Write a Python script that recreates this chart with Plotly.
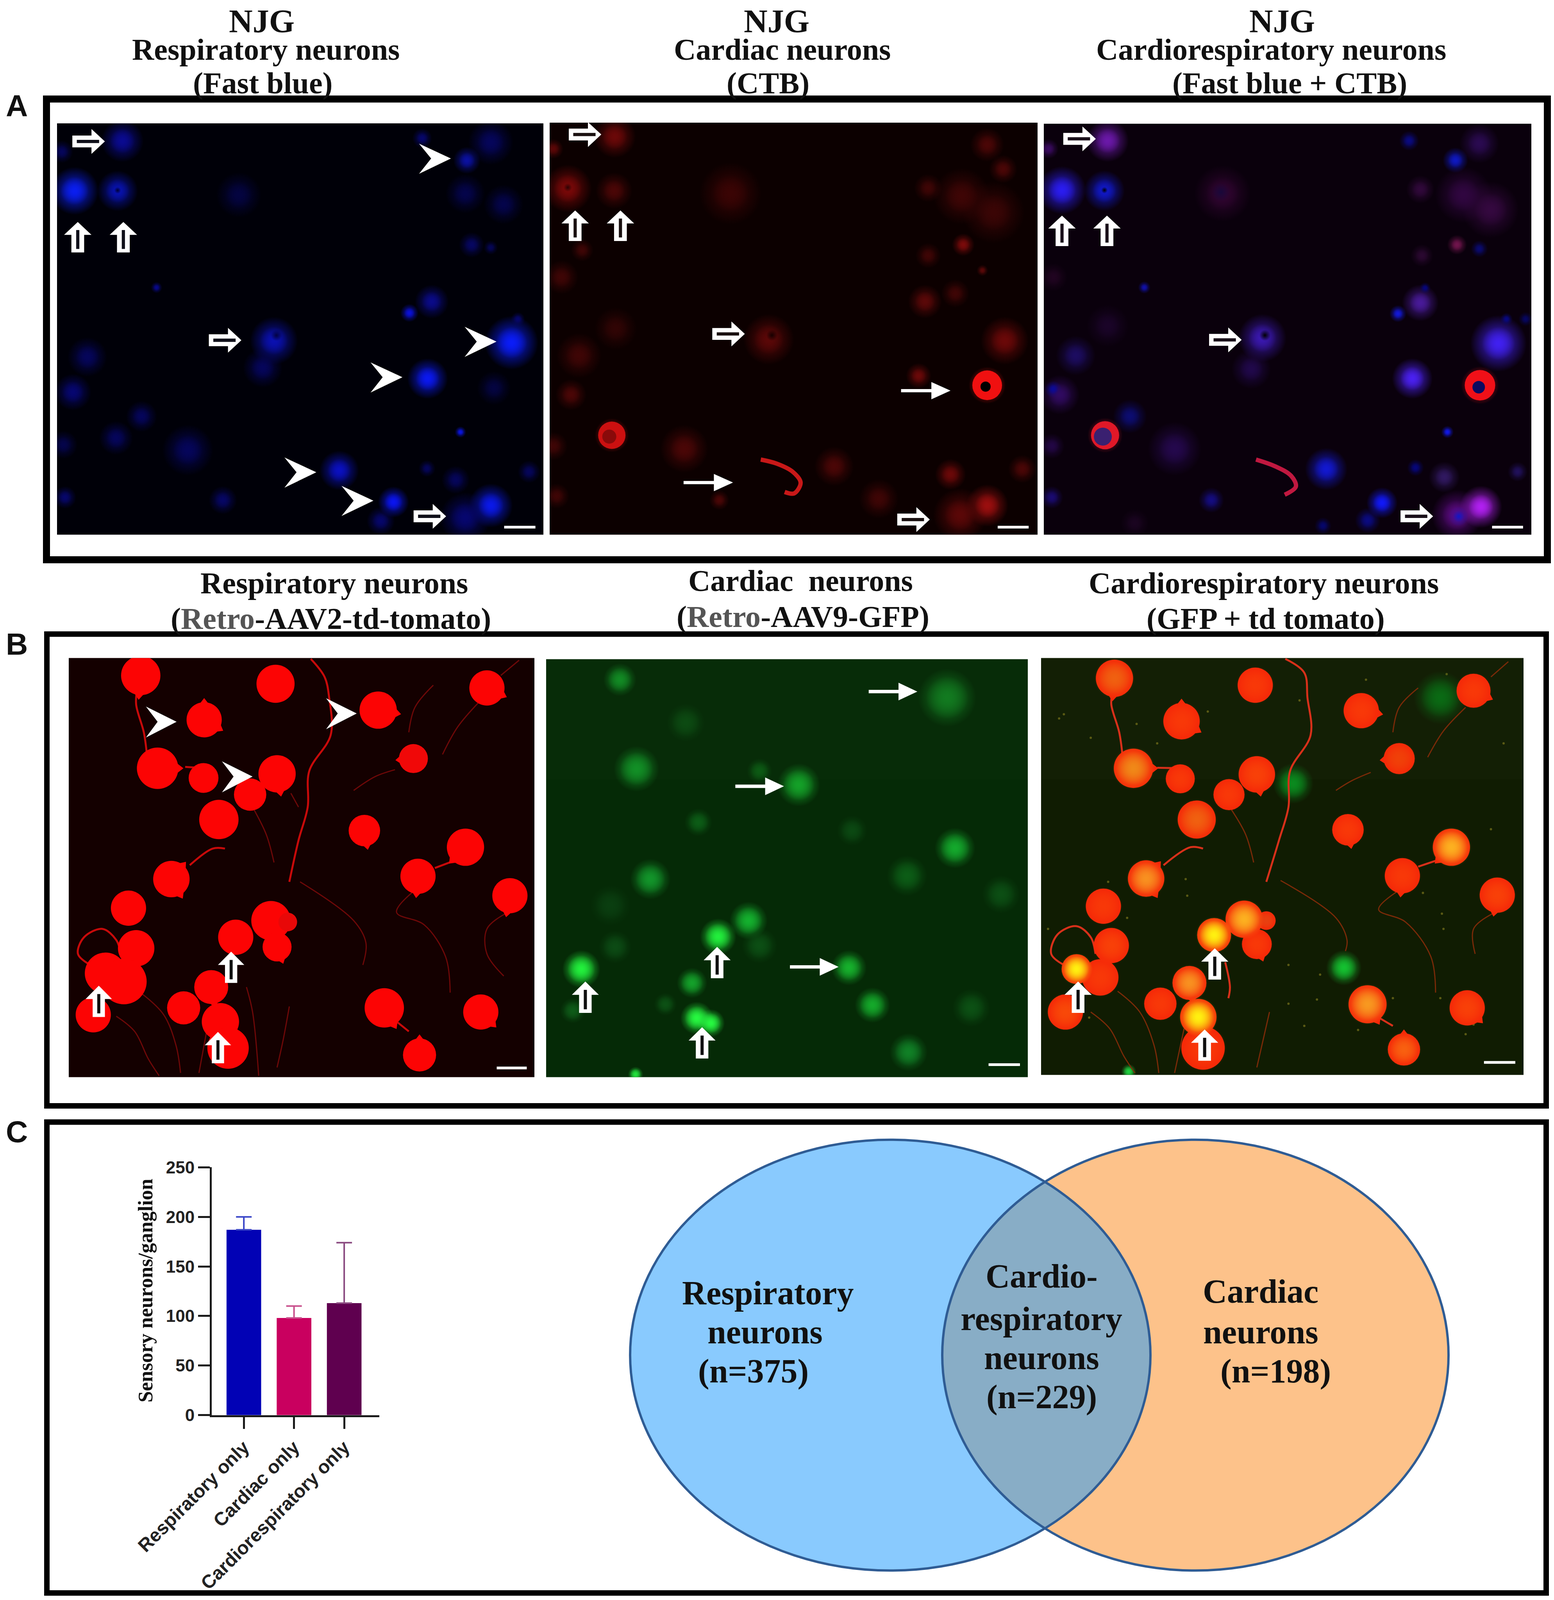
import math

import plotly.graph_objects as go

# the photographed page only shows this much, so the whole reference is fitted into it
REF_W = 3978
REF_H = 4345
SHOWN_H = 4096
BODY_MARGIN = 8
FIG_W = REF_W - 2 * BODY_MARGIN
FIG_H = SHOWN_H - 2 * BODY_MARGIN
SERIF = "Liberation Serif"
SANS = "Liberation Sans"

# bar chart (panel C)
CATEGORIES = ["Respiratory only", "Cardiac only", "Cardiorespiratory only"]
MEANS = [187, 98, 113]
ERRORS = [13, 12, 61]
BAR_COLORS = ["#0202b5", "#c9005f", "#5f004f"]
ERROR_COLORS = ["#3a46c8", "#c8508c", "#8a4a80"]
Y_TICKS = [0, 50, 100, 150, 200, 250]

# venn counts (panel C)
VENN_RESP = 375
VENN_BOTH = 229
VENN_CARD = 198

# micrograph cells, in field units: (x, y, diameter, peak colour)
A1_CELLS = [
    (225, 85, 75, "#0a0a90"), (75, 270, 85, "#0a1ef0"), (210, 270, 72, "#0812b0"), (1305, 157, 48, "#0a10a0"),
    (1165, 75, 35, "#06066a"), (1380, 90, 80, "#05055a"), (35, 125, 40, "#05055a"), (590, 285, 80, "#040440"),
    (1320, 470, 45, "#060660"), (1380, 480, 25, "#050555"), (1300, 280, 70, "#04044a"), (1420, 320, 70, "#04044a"),
    (332, 628, 20, "#08088a"), (1195, 680, 60, "#0a0a88"), (1125, 722, 32, "#0a10d8"), (1445, 832, 95, "#0a1cf8"),
    (1182, 965, 72, "#0a18f0"), (700, 825, 85, "#0a10b0"), (665, 925, 70, "#05055a"), (115, 885, 70, "#05055a"),
    (70, 1015, 65, "#060670"), (285, 1105, 55, "#05055a"), (205, 1185, 60, "#05055a"), (430, 1230, 90, "#05055a"),
    (905, 1305, 70, "#0a10c0"), (1075, 1422, 55, "#0a14f0"), (1035, 1492, 50, "#06066a"), (1380, 1435, 78, "#0a18e8"),
    (1300, 1480, 90, "#06066e"), (1285, 1163, 20, "#0a14e0"), (1180, 1298, 30, "#05055a"), (1270, 1340, 50, "#05055a"),
    (1500, 1310, 40, "#05055a"), (540, 1415, 50, "#060664"), (45, 1405, 40, "#06066a"), (1390, 1000, 60, "#040440"),
    (40, 1210, 50, "#04044a"), (1465, 745, 25, "#06066a"),
]
A1_NUCLEI = [(210, 268, 12, "#000030"), (708, 805, 20, "#020240")]

A2_CELLS = [
    (212, 70, 75, "#6a0808"), (65, 262, 85, "#7a0808"), (210, 270, 65, "#4a0606"), (575, 280, 110, "#3a0404"),
    (20, 115, 35, "#5a0606"), (1380, 100, 60, "#4a0606"), (1430, 190, 50, "#4a0606"), (1300, 290, 100, "#3e0505"),
    (1400, 350, 110, "#3a0505"), (1305, 470, 40, "#7a0a0a"), (1195, 510, 45, "#3e0505"), (1195, 260, 50, "#3e0505"),
    (1185, 680, 60, "#5a0808"), (1280, 650, 50, "#3e0505"), (1365, 565, 20, "#5a0808"), (1435, 825, 85, "#6a0808"),
    (1165, 955, 45, "#6a0808"), (695, 820, 90, "#5a0707"),
    (900, 1290, 70, "#4a0606"), (1265, 1320, 55, "#6a0808"), (1380, 1435, 75, "#9a0e0e"), (1295, 1470, 95, "#5a0707"),
    (1040, 1410, 70, "#3e0505"), (430, 1225, 85, "#4a0606"), (215, 780, 75, "#300404"), (100, 880, 80, "#3e0505"),
    (75, 1025, 55, "#4a0606"), (45, 590, 60, "#3e0505"), (20, 1215, 50, "#3e0505"), (540, 1415, 35, "#4a0606"),
    (1490, 1300, 50, "#4a0606"), (30, 1400, 45, "#3e0505"), (110, 490, 40, "#3e0505"),
]
A2_BRIGHT = [(1380, 990, 76, "#f01010"), (203, 1175, 70, "#cc1010")]
A2_BRIGHT_HOLES = [(1375, 995, 26, "#000000"), (195, 1180, 36, "#8a0a0a")]
A2_NUCLEI = [(705, 805, 24, "#150000"), (65, 258, 18, "#2a0303")]
A2_CRESCENT_X = [670, 720, 770, 795, 775, 745]
A2_CRESCENT_Y = [1265, 1280, 1310, 1350, 1390, 1385]

A3_CELLS = [
    (215, 85, 75, "#6a18a8"), (72, 268, 85, "#2a1cf0"), (205, 270, 72, "#1018c8"), (1305, 157, 45, "#0e18c0"),
    (1160, 85, 35, "#0a0a80"), (1380, 95, 70, "#2a0a50"), (30, 115, 35, "#3a0a60"), (575, 280, 100, "#300430"),
    (1195, 265, 50, "#30083a"), (1330, 285, 100, "#300640"), (1415, 340, 100, "#34083f"), (1310, 470, 35, "#70144c"),
    (1380, 485, 30, "#0a0a70"), (1200, 510, 40, "#2a0830"), (330, 628, 22, "#1010a8"), (1125, 725, 30, "#1218d8"),
    (1195, 685, 65, "#481a98"), (1210, 630, 20, "#06067a"), (700, 815, 85, "#3a18b0"), (665, 930, 70, "#20084a"),
    (1440, 835, 100, "#4020f0"), (1170, 965, 72, "#4a20f0"), (1465, 745, 22, "#080880"), (1525, 745, 25, "#060660"),
    (115, 880, 70, "#1c0c60"), (215, 770, 75, "#1a0428"),
    (65, 1025, 70, "#300a60"), (45, 1005, 30, "#0a0a98"), (285, 1105, 60, "#0c0c70"), (425, 1225, 95, "#24084c"),
    (45, 590, 50, "#200420"), (40, 1215, 45, "#220644"), (900, 1300, 75, "#1218d0"), (1075, 1425, 55, "#1018f8"),
    (1030, 1490, 45, "#0a0a80"), (1310, 1470, 90, "#5a0a80"), (1385, 1440, 75, "#b020f0"), (1315, 1475, 35, "#1018c8"),
    (1280, 1163, 22, "#1018e8"), (1180, 1295, 30, "#06067a"), (1270, 1330, 55, "#301860"), (1500, 1310, 35, "#20105a"),
    (540, 1415, 45, "#140c80"), (40, 1405, 40, "#1a0a70"), (890, 1510, 30, "#06066a"), (300, 1500, 50, "#1a0420"),
]
A3_BRIGHT = [(1382, 990, 78, "#f01018"), (207, 1175, 72, "#e01828")]
A3_BRIGHT_HOLES = [(1378, 997, 32, "#0a0a60"), (200, 1180, 46, "#3a2070")]
A3_NUCLEI = [(205, 268, 14, "#000000"), (708, 805, 24, "#000000"), (570, 275, 40, "#18083a")]
A3_CRESCENT_X = [680, 740, 790, 805, 770]
A3_CRESCENT_Y = [1265, 1290, 1325, 1365, 1395]

B1_CELLS = [
    (255, 85, 95, "#fc0404"), (695, 115, 92, "#fc0404"), (1385, 130, 85, "#fc0404"), (1030, 210, 90, "#fc0404"),
    (462, 245, 85, "#fc0404"), (310, 420, 100, "#fc0404"), (460, 455, 72, "#fc0404"),
    (700, 440, 90, "#fc0404"), (1145, 385, 70, "#f00808"), (612, 515, 78, "#fc0404"), (510, 605, 95, "#fc0404"),
    (985, 645, 76, "#fc0404"), (1315, 705, 90, "#fc0404"), (1160, 810, 85, "#fc0404"), (355, 820, 88, "#fc0404"),
    (1460, 880, 85, "#fc0404"), (215, 925, 85, "#fc0404"), (565, 1030, 85, "#fc0404"), (680, 970, 95, "#fc0404"),
    (735, 975, 45, "#e80808"), (700, 1065, 70, "#fc0404"), (240, 1070, 88, "#fc0404"), (140, 1160, 100, "#fc0404"),
    (200, 1190, 110, "#fc0404"), (485, 1210, 82, "#fc0404"), (395, 1285, 80, "#fc0404"), (100, 1310, 85, "#fc0404"),
    (515, 1335, 90, "#fc0404"), (540, 1430, 100, "#fc0404"), (1050, 1285, 95, "#fc0404"), (1365, 1300, 85, "#fc0404"),
    (1165, 1455, 80, "#fc0404"),
]
# pointed ends of the cell bodies: (cell x, cell y, cell diameter, direction in degrees)
B1_TAILS = [
    (255, 85, 95, 185), (462, 245, 85, 0), (462, 245, 85, 120), (310, 420, 100, 90), (700, 440, 90, 170),
    (1385, 130, 85, 115), (1030, 210, 90, 100), (1145, 385, 70, 265), (985, 645, 76, 170), (1315, 705, 90, 225),
    (1160, 810, 85, 185), (355, 820, 88, 40), (355, 820, 88, 150), (1460, 880, 85, 190), (1050, 1285, 95, 150),
    (1165, 1455, 80, 0), (1365, 1300, 85, 135), (485, 1210, 82, 170), (700, 1065, 70, 160),
]
B2_CELLS = [
    (245, 100, 65, "#128a24"), (1288, 165, 115, "#127a20"), (455, 255, 75, "#0c4a12"), (298, 422, 90, "#128f26"),
    (690, 430, 50, "#0c5a14"), (815, 480, 85, "#14a028"), (495, 615, 55, "#0c5c16"), (985, 645, 60, "#0b4812"),
    (1313, 708, 80, "#14a82c"), (1160, 808, 80, "#0c5c16"), (342, 820, 80, "#12942a"), (1460, 875, 75, "#0c4e14"),
    (215, 915, 80, "#0a3e10"), (558, 1028, 72, "#22ee3c"), (655, 970, 75, "#14b02e"), (690, 1060, 70, "#0c4e14"),
    (230, 1065, 65, "#0c4a14"), (122, 1145, 75, "#22f03c"), (475, 1195, 60, "#14a02a"), (390, 1272, 45, "#0c5014"),
    (95, 1295, 50, "#0e5a18"), (490, 1322, 65, "#26f840"), (535, 1340, 55, "#26f840"), (975, 1140, 70, "#16b02c"),
    (1050, 1275, 70, "#14a82a"), (1365, 1285, 75, "#0c5014"), (1165, 1445, 75, "#108026"), (295, 1525, 30, "#22e03c"),
]
B3_GREEN_CELLS = [
    (1280, 165, 105, "#0a6a14"), (815, 475, 80, "#0a8a1e"), (975, 1140, 70, "#14c030"), (295, 1515, 30, "#20d040"),
]
B3_CELLS = [
    (250, 95, 90, "#f06010"), (695, 120, 85, "#f83808"), (1385, 140, 82, "#f83808"), (1030, 212, 85, "#f83808"),
    (462, 250, 88, "#f83808"), (310, 420, 95, "#f08818"), (458, 458, 70, "#f83808"), (700, 442, 88, "#f84008"),
    (1150, 385, 75, "#f04008"), (612, 515, 75, "#f83808"), (510, 605, 92, "#f06010"), (988, 642, 76, "#f83808"),
    (1315, 705, 90, "#fcb020"), (1160, 808, 85, "#f83808"), (350, 818, 88, "#f89020"), (1460, 878, 85, "#f84008"),
    (215, 918, 85, "#f83808"), (730, 970, 45, "#e84010"), (660, 965, 90, "#fcb020"), (565, 1022, 82, "#fff010"),
    (700, 1055, 72, "#f83808"), (240, 1060, 85, "#f84008"), (205, 1175, 88, "#f83808"), (130, 1145, 72, "#fff010"),
    (487, 1195, 82, "#f89020"), (395, 1270, 78, "#f83808"), (95, 1300, 85, "#f84808"), (530, 1430, 105, "#f83808"),
    (515, 1318, 88, "#fff010"), (1050, 1272, 92, "#f89820"), (1365, 1285, 85, "#f84008"), (1165, 1435, 78, "#f86010"),
]
B3_TAILS = [
    (250, 95, 90, 185), (462, 250, 88, 0), (462, 250, 88, 120), (310, 420, 95, 90), (700, 442, 88, 170),
    (1385, 140, 82, 115), (1030, 212, 85, 100), (1150, 385, 75, 265), (988, 642, 76, 170), (1315, 705, 90, 225),
    (1160, 808, 85, 185), (350, 818, 88, 40), (350, 818, 88, 150), (1460, 878, 85, 190), (1050, 1272, 92, 150),
    (1165, 1435, 78, 0), (1365, 1285, 85, 135), (487, 1195, 82, 170), (700, 1055, 72, 160),
]

# nerve fibres, None breaks the line
B1_MAIN_FIBRE_X = [243, 240, 265, 275, None, 810, 855, 870, 875, 805, 800, 770, 740, None, 415, 490, 530, None, 1215, 1275, None, 90, 50, 70, 130, 175, 190, None, 400, 470, None, 1085, 1130]
B1_MAIN_FIBRE_Y = [135, 190, 290, 370, None, 25, 90, 165, 300, 430, 560, 680, 830, None, 770, 710, 710, None, 780, 755, None, 1130, 1090, 1030, 1000, 1040, 1090, None, 415, 420, None, 1330, 1370]
B1_THIN_FIBRE_X = [1150, 1090, 1180, 1250, 1265, None, 1445, 1385, 1385, 1440, None, 775, 950, 990, 980, None, 260, 330, 370, 385, None, 175, 235, 280, 315, None, 1360, 1290, 1240, None, 1085, 1020, 950, None, 620, 665, 690, None, 745, 770, None, 600, 620, 640, None, 740, 720, 700, None, 470, 445, None, 1210, 1150, 1130, None, 1490, 1430]
B1_THIN_FIBRE_Y = [860, 940, 985, 1100, 1230, None, 945, 1000, 1090, 1170, None, 830, 970, 1050, 1130, None, 1235, 1310, 1420, 1520, None, 1315, 1370, 1470, 1530, None, 180, 270, 370, None, 425, 450, 500, None, 560, 660, 760, None, 510, 560, None, 1210, 1300, 1530, None, 1280, 1400, 1500, None, 1370, 1520, None, 120, 200, 290, None, 30, 85]
B3_MAIN_FIBRE_X = [243, 240, 265, 275, None, 790, 850, 860, 870, 805, 800, 770, 730, None, 405, 490, 530, None, 1210, 1275, None, 90, 50, 70, 130, 175, 190, None, 385, 470, None, 1085, 1130, None, 600, 615, 610]
B3_MAIN_FIBRE_Y = [150, 190, 290, 370, None, 25, 75, 165, 300, 430, 560, 680, 830, None, 770, 705, 710, None, 775, 750, None, 1130, 1090, 1020, 990, 1030, 1090, None, 418, 420, None, 1320, 1350, None, 1120, 1210, 1250]
B3_THIN_FIBRE_X = [1150, 1085, 1170, 1250, 1265, None, 1445, 1385, 1390, None, 775, 950, 985, 980, None, 260, 330, 375, 390, None, 175, 235, 280, 315, None, 1360, 1290, 1240, None, 1060, 1000, 950, None, 620, 665, 690, None, 740, 720, 700, None, 470, 440, None, 1210, 1150, 1130, None, 1495, 1440]
B3_THIN_FIBRE_Y = [860, 930, 975, 1100, 1230, None, 945, 1000, 1090, None, 825, 960, 1040, 1080, None, 1225, 1300, 1420, 1520, None, 1300, 1360, 1460, 1520, None, 200, 285, 380, None, 435, 465, 500, None, 570, 660, 760, None, 1300, 1400, 1500, None, 1360, 1520, None, 130, 200, 290, None, 35, 90]
B3_SPECKLE_X = [75, 90, 175, 320, 385, 475, 545, 480, 230, 835, 1045, 1300, 1225, 1285, 1440, 1480, 1290, 800, 900, 890, 800, 850, 1020, 1360, 1385, 170, 40, 290, 1130, 1280]
B3_SPECKLE_Y = [240, 225, 310, 260, 330, 820, 215, 880, 830, 175, 100, 80, 870, 945, 640, 330, 1000, 1130, 1165, 1255, 1270, 1350, 1365, 1380, 1345, 1320, 1000, 960, 1250, 1250]

# annotation glyphs, in field units of each micrograph: tip positions
A1_RIGHT = [(170, 87), (598, 823), (1240, 1475)]
A1_UP = [(85, 385), (228, 385)]
A1_CHEVRON = [(1255, 150), (1398, 828), (1103, 960), (833, 1312), (1012, 1417)]
A1_BAR = (1422, 1520, 1515)
A2_RIGHT = [(170, 62), (620, 800), (1200, 1487)]
A2_UP = [(88, 343), (230, 343)]
A2_THIN = [(1265, 1010), (583, 1350)]
A2_BAR = (1413, 1510, 1515)
A3_RIGHT = [(178, 78), (635, 822), (1235, 1475)]
A3_UP = [(72, 362), (213, 362)]
A3_BAR = (1420, 1517, 1515)
B1_UP = [(118, 1205), (550, 1082), (507, 1372)]
B1_CHEVRON = [(372, 252), (960, 222), (620, 450)]
B1_BAR = (1417, 1515, 1502)
B2_UP = [(135, 1190), (555, 1065), (507, 1355)]
B2_THIN = [(1193, 143), (768, 485), (942, 1137)]
B2_BAR = (1420, 1520, 1490)
B3_UP = [(135, 1190), (567, 1070), (535, 1363)]
B3_BAR = (1418, 1517, 1482)

# headings: text, centre x, centre y, size
HEADINGS = [
    ("NJG", 670, 58, 84), ("NJG", 1988, 58, 84), ("NJG", 3282, 58, 84),
    ("Respiratory neurons", 680, 134, 78), ("Cardiac neurons", 2002, 134, 78), ("Cardiorespiratory neurons", 3254, 134, 78),
    ("(Fast blue)", 672, 225, 78), ("(CTB)", 1966, 225, 78), ("(Fast blue + CTB)", 3301, 225, 78),
    ("Respiratory neurons", 855, 1583, 78), ("Cardiac  neurons", 2050, 1577, 78), ("Cardiorespiratory neurons", 3235, 1583, 78),
    ("(<span style='color:#555555'>Retro</span>-AAV2-td-tomato)", 847, 1680, 78),
    ("(<span style='color:#555555'>Retro</span>-AAV9-GFP)", 2055, 1674, 78),
    ("(GFP + td tomato)", 3240, 1680, 78),
]
VENN_LABELS = [
    ("Respiratory", 1965, 3511), ("neurons", 1958, 3617), (f"(n={VENN_RESP})", 1928, 3723),
    ("Cardio-", 2666, 3466), ("respiratory", 2666, 3581), ("neurons", 2666, 3687), (f"(n={VENN_BOTH})", 2666, 3793),
    ("Cardiac", 3227, 3507), ("neurons", 3227, 3617), (f"(n={VENN_CARD})", 3265, 3723),
]
PANEL_LETTERS = [("A", 43, 288), ("B", 43, 1749), ("C", 43, 3073)]


def px(x):
    return (x - BODY_MARGIN) / FIG_W


def py(y):
    return 1 - (y * SHOWN_H / REF_H - BODY_MARGIN) / FIG_H


def transparent(hex_color):
    r, g, b = (int(hex_color[i:i + 2], 16) for i in (1, 3, 5))
    return f"rgba({r},{g},{b},0)"


def blob_trace(cells, axis, scale=1.45):
    x, y, size, color = zip(*cells)
    return go.Scatter(
        x=x, y=y, xaxis=f"x{axis}", yaxis=f"y{axis}", mode="markers", hoverinfo="skip", showlegend=False,
        marker={
            "size": [s * scale for s in size],
            "opacity": 1,
            "color": [transparent(c) for c in color],
            "gradient": {"type": "radial", "color": list(color)},
            "line": {"width": 0},
        },
    )


def solid_trace(cells, axis, scale=1.0, color=None):
    x, y, size, colors = zip(*cells)
    return go.Scatter(
        x=x, y=y, xaxis=f"x{axis}", yaxis=f"y{axis}", mode="markers", hoverinfo="skip", showlegend=False,
        marker={"size": [s * scale for s in size], "color": color or list(colors), "opacity": 1, "line": {"width": 0}},
    )


def tail_trace(tails, axis, color):
    # triangle whose tip pokes a quarter radius out of the round cell body
    xs, ys, sizes, angles = [], [], [], []
    for cx, cy, diameter, angle in tails:
        radius = diameter / 2 * 1.06
        rad = math.radians(angle)
        xs.append(cx + 0.5 * radius * 1.27 * math.sin(rad))
        ys.append(cy - 0.5 * radius * 1.38 * math.cos(rad))
        sizes.append(1.5 * radius)
        angles.append(angle)
    return go.Scatter(
        x=xs, y=ys, xaxis=f"x{axis}", yaxis=f"y{axis}", mode="markers", hoverinfo="skip", showlegend=False,
        marker={"symbol": "triangle-up", "size": sizes, "angle": angles, "color": color, "opacity": 1, "line": {"width": 0}},
    )


def line_trace(x, y, axis, color, width):
    return go.Scatter(
        x=x, y=y, xaxis=f"x{axis}", yaxis=f"y{axis}", mode="lines", hoverinfo="skip", showlegend=False,
        line={"color": color, "width": width, "shape": "spline"},
    )


def polygon(points, axis, fill, layer="above"):
    path = "M " + " L ".join(f"{x} {y}" for x, y in points) + " Z"
    return {"type": "path", "path": path, "xref": f"x{axis}", "yref": f"y{axis}", "fillcolor": fill, "line": {"width": 0}, "layer": layer}


def right_arrow(tip, axis, dark):
    x, y = tip
    outer = [(x, y), (x - 42, y - 46), (x - 42, y - 22), (x - 102, y - 22), (x - 102, y + 22), (x - 42, y + 22), (x - 42, y + 46)]
    slit = [(x - 88, y - 6), (x - 18, y - 6), (x - 18, y + 6), (x - 88, y + 6)]
    return [polygon(outer, axis, "#ffffff"), polygon(slit, axis, dark)]


def up_arrow(tip, axis, dark):
    x, y = tip
    outer = [(x, y), (x + 43, y + 48), (x + 20, y + 48), (x + 20, y + 113), (x - 20, y + 113), (x - 20, y + 48), (x - 43, y + 48)]
    slit = [(x - 5, y + 30), (x + 5, y + 30), (x + 5, y + 100), (x - 5, y + 100)]
    return [polygon(outer, axis, "#ffffff"), polygon(slit, axis, dark)]


def chevron(tip, axis):
    x, y = tip
    return [polygon([(x, y), (x - 100, y - 55), (x - 62, y), (x - 100, y + 57)], axis, "#ffffff")]


def thin_arrow(tip, axis):
    x, y = tip
    outer = [(x, y), (x - 60, y - 32), (x - 60, y - 6), (x - 155, y - 6), (x - 155, y + 6), (x - 60, y + 6), (x - 60, y + 32)]
    return [polygon(outer, axis, "#ffffff")]


def scale_bar(bar, axis):
    x0, x1, y = bar
    return [polygon([(x0, y - 5), (x1, y - 5), (x1, y + 5), (x0, y + 5)], axis, "#ffffff")]


def text_note(text, x, y, size, family=SERIF):
    return {
        "text": f"<b>{text}</b>", "x": px(x), "y": py(y), "xref": "paper", "yref": "paper", "showarrow": False,
        "xanchor": "center", "yanchor": "middle", "font": {"family": family, "size": size, "color": "#111111"},
    }


def frame(x0, y0, x1, y1, width):
    return {
        "type": "rect", "xref": "paper", "yref": "paper", "x0": px(x0), "x1": px(x1), "y0": py(y0), "y1": py(y1),
        "line": {"color": "#000000", "width": width}, "fillcolor": "rgba(0,0,0,0)",
    }


def ellipse(x0, y0, x1, y1, fill, line_width=0):
    return {
        "type": "circle", "xref": "paper", "yref": "paper", "x0": px(x0), "x1": px(x1), "y0": py(y0), "y1": py(y1),
        "fillcolor": fill, "line": {"color": "#2f5c94", "width": line_width},
    }


# pixel box of each micrograph and its field window
PANELS = [
    {"box": (146, 335, 1391, 1452), "field": (20, 1545, 20, 1543), "bg": "#000008"},
    {"box": (1407, 333, 2656, 1452), "field": (8, 1538, 18, 1543), "bg": "#0c0000"},
    {"box": (2672, 336, 3920, 1452), "field": (15, 1543, 22, 1543), "bg": "#0a000c"},
    {"box": (176, 1787, 1368, 2925), "field": (20, 1540, 22, 1535), "bg": "#140000"},
    {"box": (1398, 1790, 2631, 2925), "field": (10, 1545, 26, 1535), "bg": "#052a06"},
    {"box": (2665, 1787, 3900, 2919), "field": (18, 1543, 22, 1527), "bg": "#101c02"},
]

traces = []

# micrographs
traces += [blob_trace(A1_CELLS, 2), blob_trace(A1_CELLS, 2, 0.85), blob_trace(A1_NUCLEI, 2)]
traces += [
    blob_trace(A2_CELLS, 3), blob_trace(A2_CELLS, 3, 0.85), blob_trace(A2_NUCLEI, 3, 1.2),
    blob_trace(A2_BRIGHT, 3, 1.25), solid_trace(A2_BRIGHT, 3), solid_trace(A2_BRIGHT_HOLES, 3),
    line_trace(A2_CRESCENT_X, A2_CRESCENT_Y, 3, "#c81818", 11),
]
traces += [
    blob_trace(A3_CELLS, 4), blob_trace(A3_CELLS, 4, 0.85), blob_trace(A3_NUCLEI, 4, 1.2),
    blob_trace(A3_BRIGHT, 4, 1.25), solid_trace(A3_BRIGHT, 4), solid_trace(A3_BRIGHT_HOLES, 4),
    line_trace(A3_CRESCENT_X, A3_CRESCENT_Y, 4, "#c01840", 11),
]
traces += [
    line_trace(B1_THIN_FIBRE_X, B1_THIN_FIBRE_Y, 5, "#6e0808", 3), line_trace(B1_MAIN_FIBRE_X, B1_MAIN_FIBRE_Y, 5, "#c80a0a", 5),
    tail_trace(B1_TAILS, 5, "#fc0404"), solid_trace(B1_CELLS, 5, 1.06),
]
traces += [blob_trace(B2_CELLS, 6, 1.3), blob_trace(B2_CELLS, 6, 0.95)]
traces += [
    solid_trace(list(zip(B3_SPECKLE_X, B3_SPECKLE_Y, [6] * len(B3_SPECKLE_X), ["#5a5a14"] * len(B3_SPECKLE_X))), 7),
    blob_trace(B3_GREEN_CELLS, 7, 1.3), blob_trace(B3_GREEN_CELLS, 7, 0.95),
    line_trace(B3_THIN_FIBRE_X, B3_THIN_FIBRE_Y, 7, "#7a2a08", 3), line_trace(B3_MAIN_FIBRE_X, B3_MAIN_FIBRE_Y, 7, "#d8301a", 5),
    tail_trace(B3_TAILS, 7, "#f52808"), solid_trace(B3_CELLS, 7, 1.06, "#f52808"), blob_trace(B3_CELLS, 7, 1.15), blob_trace(B3_CELLS, 7, 0.9),
]

# bar chart
for cat, mean, err, bar_color, err_color in zip(CATEGORIES, MEANS, ERRORS, BAR_COLORS, ERROR_COLORS):
    traces.append(go.Bar(
        x=[cat], y=[mean], width=0.69, showlegend=False, hoverinfo="skip",
        marker={"color": bar_color, "line": {"width": 0}},
        error_y={"type": "data", "symmetric": False, "array": [err], "arrayminus": [0], "color": err_color, "thickness": 4, "width": 20},
    ))

fig = go.Figure(traces)

shapes = []
for panel in PANELS:
    x0, y0, x1, y1 = panel["box"]
    shapes.append({
        "type": "rect", "xref": "paper", "yref": "paper", "x0": px(x0), "x1": px(x1), "y0": py(y0), "y1": py(y1),
        "fillcolor": panel["bg"], "line": {"width": 0}, "layer": "below",
    })

# the upper tile of the stitched B images is a touch lighter
shapes.append(polygon([(10, 26), (1545, 26), (1545, 460), (10, 460)], 6, "rgba(255,255,255,0.012)", "below"))
shapes.append(polygon([(18, 22), (1543, 22), (1543, 460), (18, 460)], 7, "rgba(255,255,255,0.015)", "below"))

shapes += [frame(119, 269, 3961, 1520, 18), frame(120, 1722, 3958, 3003, 14), frame(120, 3047, 3958, 4326, 14)]

# venn: orange first, translucent blue over it, outlines last
VENN_LEFT = (1613, 3095, 2945, 4265)
VENN_RIGHT = (2412, 3095, 3708, 4265)
shapes += [
    ellipse(*VENN_RIGHT, "#fdc28a"),
    ellipse(*VENN_LEFT, "rgba(28,153,253,0.52)"),
    ellipse(*VENN_RIGHT, "rgba(0,0,0,0)", 6),
    ellipse(*VENN_LEFT, "rgba(0,0,0,0)", 6),
]

for tip in A1_RIGHT:
    shapes += right_arrow(tip, 2, "#10101a")
for tip in A1_UP:
    shapes += up_arrow(tip, 2, "#10101a")
for tip in A1_CHEVRON:
    shapes += chevron(tip, 2)
shapes += scale_bar(A1_BAR, 2)
for tip in A2_RIGHT:
    shapes += right_arrow(tip, 3, "#1a1010")
for tip in A2_UP:
    shapes += up_arrow(tip, 3, "#1a1010")
for tip in A2_THIN:
    shapes += thin_arrow(tip, 3)
shapes += scale_bar(A2_BAR, 3)
for tip in A3_RIGHT:
    shapes += right_arrow(tip, 4, "#1a101a")
for tip in A3_UP:
    shapes += up_arrow(tip, 4, "#1a101a")
shapes += scale_bar(A3_BAR, 4)
for tip in B1_UP:
    shapes += up_arrow(tip, 5, "#101010")
for tip in B1_CHEVRON:
    shapes += chevron(tip, 5)
shapes += scale_bar(B1_BAR, 5)
for tip in B2_UP:
    shapes += up_arrow(tip, 6, "#101010")
for tip in B2_THIN:
    shapes += thin_arrow(tip, 6)
shapes += scale_bar(B2_BAR, 6)
for tip in B3_UP:
    shapes += up_arrow(tip, 7, "#101010")
shapes += scale_bar(B3_BAR, 7)

annotations = [text_note(*h) for h in HEADINGS]
annotations += [text_note(t, x, y, 86) for t, x, y in VENN_LABELS]
annotations += [text_note(t, x, y, 78, SANS) for t, x, y in PANEL_LETTERS]
annotations.append({
    "text": "<b>Sensory neurons/ganglion</b>", "x": px(372), "y": py(3505), "xref": "paper", "yref": "paper",
    "showarrow": False, "textangle": -90, "xanchor": "center", "yanchor": "middle",
    "font": {"family": SERIF, "size": 52, "color": "#111111"},
})

layout = {
    "template": "none",
    "width": FIG_W,
    "height": FIG_H,
    "margin": {"l": 0, "r": 0, "t": 0, "b": 0, "pad": 0},
    "paper_bgcolor": "#ffffff",
    "plot_bgcolor": "rgba(0,0,0,0)",
    "barmode": "overlay",
    "shapes": shapes,
    "annotations": annotations,
    "xaxis": {
        "domain": [px(542), px(971)],
        "anchor": "y",
        "type": "category",
        "categoryorder": "array",
        "categoryarray": CATEGORIES,
        "range": [-0.64, 2.7],
        "tickvals": CATEGORIES,
        "ticktext": [f"<b>{c}</b>" for c in CATEGORIES],
        "tickangle": -45,
        "ticks": "outside",
        "ticklen": 30,
        "tickwidth": 5,
        "tickcolor": "#1a1a1a",
        "showline": True,
        "linecolor": "#1a1a1a",
        "linewidth": 5,
        "showgrid": False,
        "zeroline": False,
        "automargin": False,
        "tickfont": {"family": SANS, "size": 48, "color": "#222222"},
    },
    "yaxis": {
        "domain": [py(3843), py(3170)],
        "anchor": "x",
        "range": [0, 250],
        "tickvals": Y_TICKS,
        "ticktext": [f"<b>{v}</b>" for v in Y_TICKS],
        "ticks": "outside",
        "ticklen": 30,
        "tickwidth": 5,
        "tickcolor": "#1a1a1a",
        "showline": True,
        "linecolor": "#1a1a1a",
        "linewidth": 5,
        "showgrid": False,
        "zeroline": False,
        "automargin": False,
        "tickfont": {"family": SANS, "size": 44, "color": "#222222"},
    },
}

for n, panel in enumerate(PANELS, start=2):
    x0, y0, x1, y1 = panel["box"]
    fx0, fx1, fy0, fy1 = panel["field"]
    layout[f"xaxis{n}"] = {"domain": [px(x0), px(x1)], "range": [fx0, fx1], "anchor": f"y{n}", "visible": False, "automargin": False}
    layout[f"yaxis{n}"] = {"domain": [py(y1), py(y0)], "range": [fy1, fy0], "anchor": f"x{n}", "visible": False, "automargin": False}

fig.update_layout(**layout)
fig.write_html("out.html")
